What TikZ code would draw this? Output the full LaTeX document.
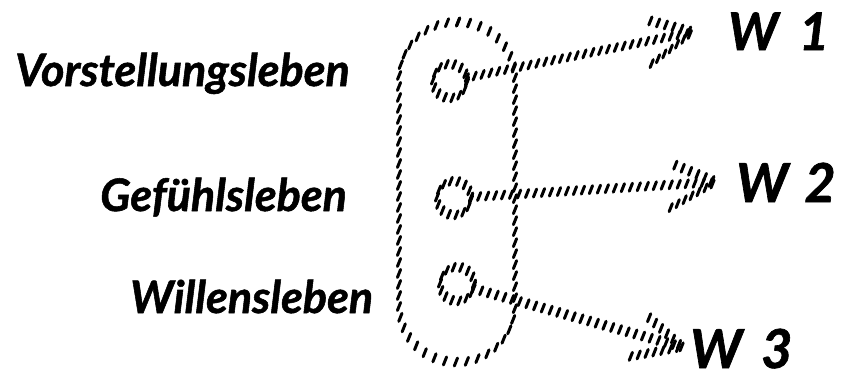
\documentclass[tikz,border=0pt]{standalone}
\usepackage{fontspec}
\setmainfont{Lato}
\newfontfamily\hand[FakeBold=1.2]{Lato}
\usetikzlibrary{decorations.markings,calc}
\tikzset{
  hatch/.style={decorate, decoration={markings,
      mark=between positions 0 and 1 step #1 with {%
        \pgftransformresetnontranslations
        \draw[line width=3bp, line cap=round] (-1.6bp,-4bp) -- (1.6bp,4bp);}}},
  hatch/.default=8bp,
  lab/.style={font=\hand\bfseries\itshape\fontsize{45}{45}\selectfont, inner sep=0pt, anchor=base west},
  wlab/.style={font=\hand\bfseries\itshape\fontsize{#1}{#1}\selectfont, inner sep=0pt, anchor=base west},
  ring/.style={draw, circle, minimum size=34bp, inner sep=0pt, hatch=7.5bp},
}
\begin{document}
\begin{tikzpicture}[x=1bp,y=-1bp]
\useasboundingbox (0,0) rectangle (842,378);
% labels
\node[lab] (vl) at (15,86) {Vorstellungsleben};
\node[lab] (gl) at (100,211) {Gefühlsleben};
\node[lab] (wl) at (130,313) {Willensleben};
% frame
\node[draw, rounded corners=57bp, minimum width=116bp, minimum height=340bp, hatch=11bp] (frame) at (457,192) {};
% circles
\node[ring] (c1) at (450,81) {};
\node[ring] (c2) at (454,198) {};
\node[ring] (c3) at (457,284) {};
% targets
\node[wlab=52] (w1) at (728,50) {W\hspace{0.4em}1};
\node[wlab=54] (w2) at (736,202) {W\hspace{0.3em}2};
\node[wlab=54] (w3) at (690,368) {W\hspace{0.35em}3};
% arrow tips
\coordinate (t1) at (693,32);
\coordinate (t2) at (716,182);
\coordinate (t3) at (682,347);
% arrows
\foreach \c/\t in {c1/t1,c2/t2,c3/t3}{
  \draw[hatch] (\c) -- (\t);
  \draw[hatch] ($(\t)!52bp!26:(\c)$) -- (\t) -- ($(\t)!52bp!-26:(\c)$);
}
\end{tikzpicture}
\end{document}
